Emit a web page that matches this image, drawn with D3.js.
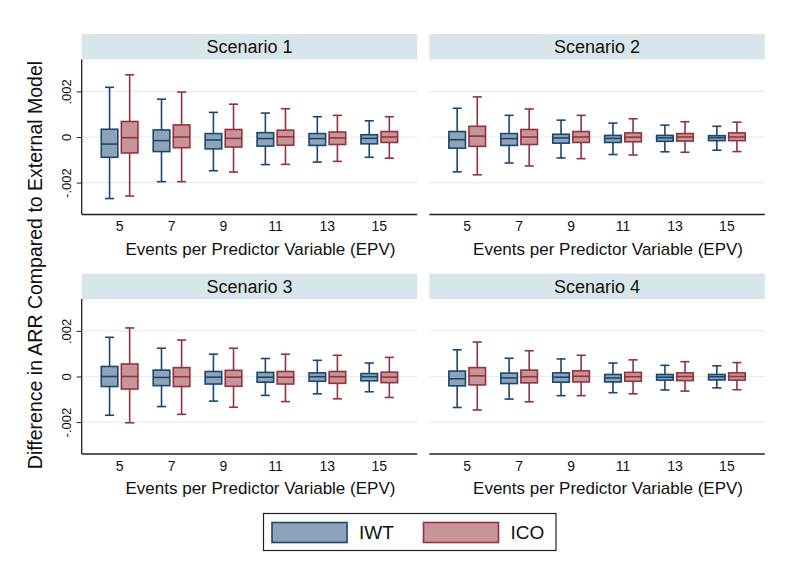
<!DOCTYPE html>
<html>
<head>
<meta charset="utf-8">
<script src="https://cdn.jsdelivr.net/npm/d3@7"></script>
<style>
  html, body { margin: 0; padding: 0; background: #fff; }
  svg { display: block; font-family: "Liberation Sans", Arial, Helvetica, sans-serif; }
</style>
</head>
<body>
<svg id="chart" width="800" height="586"></svg>
<script>
// ---- data (values in ARR difference units) ----
const epvCategories = ["5", "7", "9", "11", "13", "15"];
const seriesNames = ["IWT", "ICO"];
const scenarios = ["Scenario 1", "Scenario 2", "Scenario 3", "Scenario 4"];
const yTickValues = [-0.002, 0, 0.002];
const yTickLabels = ["-.002", "0", ".002"];
const yTitle = "Difference in ARR Compared to External Model";
const xTitle = "Events per Predictor Variable (EPV)";

// each entry: [lowWhisker, q1, median, q3, highWhisker] x 1e-3, per EPV category
const s1IWT = [[-2.70,-0.89,-0.31,0.34,2.18],[-1.96,-0.64,-0.16,0.31,1.66],[-1.48,-0.52,-0.13,0.15,1.08],[-1.21,-0.40,-0.07,0.19,1.05],[-1.10,-0.37,-0.07,0.15,0.89],[-0.89,-0.30,-0.06,0.10,0.71]];
const s1ICO = [[-2.59,-0.70,-0.03,0.68,2.73],[-1.96,-0.47,0.00,0.53,1.97],[-1.54,-0.44,-0.06,0.33,1.44],[-1.20,-0.36,0.01,0.30,1.24],[-1.07,-0.33,-0.04,0.22,0.95],[-0.93,-0.24,0.00,0.24,0.89]];
const s2IWT = [[-1.53,-0.49,-0.12,0.24,1.26],[-1.14,-0.37,-0.07,0.15,0.95],[-0.92,-0.27,-0.04,0.12,0.74],[-0.77,-0.24,-0.06,0.07,0.61],[-0.65,-0.19,-0.04,0.07,0.52],[-0.58,-0.16,-0.03,0.06,0.47]];
const s2ICO = [[-1.66,-0.41,0.04,0.47,1.76],[-1.27,-0.33,0.00,0.33,1.23],[-0.95,-0.24,0.00,0.24,0.95],[-0.79,-0.21,-0.01,0.18,0.80],[-0.67,-0.18,0.00,0.15,0.67],[-0.64,-0.16,0.00,0.18,0.65]];
const s3IWT = [[-1.70,-0.44,0.00,0.44,1.72],[-1.32,-0.40,-0.04,0.28,1.24],[-1.08,-0.33,-0.03,0.22,0.98],[-0.83,-0.25,-0.03,0.18,0.79],[-0.76,-0.21,-0.01,0.16,0.71],[-0.67,-0.19,-0.01,0.13,0.59]];
const s3ICO = [[-2.03,-0.55,0.00,0.55,2.13],[-1.66,-0.44,-0.01,0.39,1.60],[-1.35,-0.43,-0.03,0.27,1.24],[-1.10,-0.33,-0.03,0.22,0.98],[-0.98,-0.30,-0.01,0.22,0.93],[-0.92,-0.27,-0.03,0.19,0.84]];
const s4IWT = [[-1.36,-0.41,-0.10,0.24,1.17],[-0.99,-0.31,-0.06,0.15,0.80],[-0.84,-0.25,-0.03,0.16,0.77],[-0.71,-0.24,-0.06,0.09,0.59],[-0.59,-0.16,-0.03,0.09,0.49],[-0.50,-0.15,-0.01,0.09,0.47]];
const s4ICO = [[-1.47,-0.37,0.03,0.39,1.51],[-1.11,-0.28,-0.01,0.28,1.13],[-0.84,-0.24,0.01,0.25,0.93],[-0.76,-0.21,-0.01,0.18,0.73],[-0.64,-0.18,0.00,0.16,0.65],[-0.58,-0.16,0.00,0.16,0.61]];

const scenarioData = [
  { IWT: s1IWT, ICO: s1ICO },
  { IWT: s2IWT, ICO: s2ICO },
  { IWT: s3IWT, ICO: s3ICO },
  { IWT: s4IWT, ICO: s4ICO }
];

// ---- styling ----
const fills = { IWT: "#8ea3b8", ICO: "#c99499" };
const strokes = { IWT: "#1a476f", ICO: "#90353b" };
const stripFill = "#d8e5eb";
const gridColor = "#e3edf0";

const svg = d3.select("#chart");

// panel geometry
const colX = [81.7, 429.3];
const panelW = 335.5;
const rowY = [34, 273.5];   // strip top
const stripH = 25.5;
const plotH = 155;          // from strip bottom to x axis

scenarios.forEach((name, i) => {
  const col = i % 2, row = Math.floor(i / 2);
  const px = colX[col], py = rowY[row];
  const g = svg.append("g").attr("transform", `translate(${px},${py})`);

  // strip
  g.append("rect").attr("x", 0).attr("y", 0).attr("width", panelW).attr("height", stripH)
    .attr("fill", stripFill);
  g.append("text").attr("x", panelW / 2).attr("y", stripH / 2 + 6.5)
    .attr("text-anchor", "middle").attr("font-size", 18).attr("fill", "#111").text(name);

  const plot = g.append("g").attr("transform", `translate(0,${stripH})`);

  const x = d3.scaleBand().domain(epvCategories).range([0, panelW]).paddingInner(0).paddingOuter(0.23);
  const xs = d3.scaleBand().domain(seriesNames).range([0, x.bandwidth()]).paddingInner(0.175).paddingOuter(0.38);
  const y = d3.scaleLinear().domain([-0.0034, 0.0034]).range([plotH, 0]);

  // gridlines
  plot.selectAll("line.grid").data(yTickValues).enter().append("line")
    .attr("x1", 0).attr("x2", panelW)
    .attr("y1", d => y(d)).attr("y2", d => y(d))
    .attr("stroke", gridColor).attr("stroke-width", 1.2);

  // x axis baseline + labels
  plot.append("line").attr("x1", 0).attr("x2", panelW).attr("y1", plotH).attr("y2", plotH)
    .attr("stroke", "#222").attr("stroke-width", 1.3);
  const xAxis = d3.axisBottom(x).tickSize(0).tickPadding(7);
  const xa = plot.append("g").attr("transform", `translate(0,${plotH})`).call(xAxis);
  xa.select(".domain").remove();
  xa.selectAll("text").attr("font-size", 14).attr("fill", "#111").attr("font-family", "Liberation Sans, Arial, sans-serif");
  plot.append("text").attr("x", panelW / 2 + 11).attr("y", plotH + 40)
    .attr("text-anchor", "middle").attr("font-size", 17).attr("fill", "#111").text(xTitle);

  // y axis (left column only)
  if (col === 0) {
    const yAxis = d3.axisLeft(y).tickValues(yTickValues).tickSize(5).tickPadding(4)
      .tickFormat((d, k) => yTickLabels[k]);
    const ya = plot.append("g").call(yAxis);
    ya.select(".domain").attr("stroke", "#222").attr("stroke-width", 1.3)
      .attr("d", `M0,0V${plotH}`);
    ya.selectAll(".tick line").attr("stroke", "#222");
    ya.selectAll(".tick text").attr("font-size", 13).attr("fill", "#111")
      .attr("font-family", "Liberation Sans, Arial, sans-serif")
      .attr("text-anchor", "middle")
      .attr("transform", "translate(-15,0) rotate(-90)")
      .attr("x", 0).attr("dy", "0.35em").attr("y", 0);
  }

  // boxes
  const data = scenarioData[i];
  const boxes = [];
  epvCategories.forEach((cat, ci) => {
    seriesNames.forEach(s => {
      const v = data[s][ci].map(d => d / 1000);
      boxes.push({ cat, s, lo: v[0], q1: v[1], med: v[2], q3: v[3], hi: v[4] });
    });
  });
  const bw = xs.bandwidth();
  const capW = bw * 0.55;
  const bg = plot.selectAll("g.box").data(boxes).enter().append("g")
    .attr("transform", d => `translate(${x(d.cat) + xs(d.s)},0)`);
  bg.append("line").attr("x1", bw / 2).attr("x2", bw / 2)
    .attr("y1", d => y(d.hi)).attr("y2", d => y(d.q3))
    .attr("stroke", d => strokes[d.s]).attr("stroke-width", 1.6);
  bg.append("line").attr("x1", bw / 2).attr("x2", bw / 2)
    .attr("y1", d => y(d.q1)).attr("y2", d => y(d.lo))
    .attr("stroke", d => strokes[d.s]).attr("stroke-width", 1.6);
  bg.append("line").attr("x1", bw / 2 - capW / 2).attr("x2", bw / 2 + capW / 2)
    .attr("y1", d => y(d.hi)).attr("y2", d => y(d.hi))
    .attr("stroke", d => strokes[d.s]).attr("stroke-width", 1.6);
  bg.append("line").attr("x1", bw / 2 - capW / 2).attr("x2", bw / 2 + capW / 2)
    .attr("y1", d => y(d.lo)).attr("y2", d => y(d.lo))
    .attr("stroke", d => strokes[d.s]).attr("stroke-width", 1.6);
  bg.append("rect").attr("x", 0).attr("width", bw)
    .attr("y", d => y(d.q3)).attr("height", d => y(d.q1) - y(d.q3))
    .attr("fill", d => fills[d.s]).attr("stroke", d => strokes[d.s]).attr("stroke-width", 1.6);
  bg.append("line").attr("x1", 0).attr("x2", bw)
    .attr("y1", d => y(d.med)).attr("y2", d => y(d.med))
    .attr("stroke", d => strokes[d.s]).attr("stroke-width", 1.6);
});

// y axis title
svg.append("text").attr("transform", "translate(42,265) rotate(-90)")
  .attr("text-anchor", "middle").attr("font-size", 19.5).attr("fill", "#111").text(yTitle);

// legend
const lg = svg.append("g");
lg.append("rect").attr("x", 263.5).attr("y", 513.5).attr("width", 292.5).attr("height", 37)
  .attr("fill", "#fff").attr("stroke", "#222").attr("stroke-width", 1.2);
const legendX = { IWT: 272, ICO: 423.5 };
seriesNames.forEach(s => {
  lg.append("rect").attr("x", legendX[s]).attr("y", 522.5).attr("width", 75).attr("height", 20)
    .attr("fill", fills[s]).attr("stroke", strokes[s]).attr("stroke-width", 1.6);
  lg.append("text").attr("x", legendX[s] + 87).attr("y", 539)
    .attr("font-size", 19).attr("fill", "#111").text(s);
});
</script>
</body>
</html>
